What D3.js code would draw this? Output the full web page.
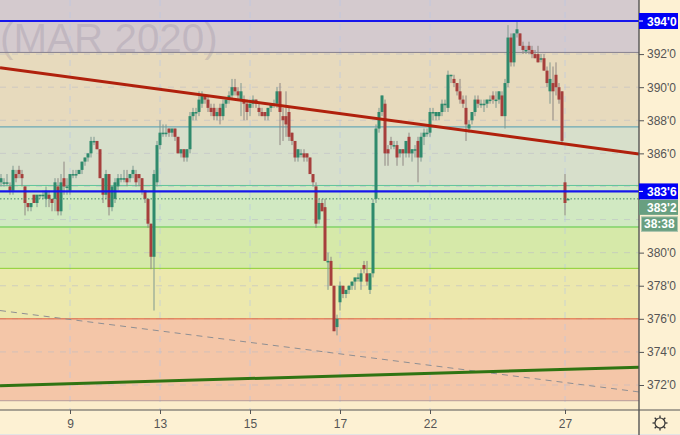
<!DOCTYPE html>
<html><head><meta charset="utf-8">
<script src="https://cdn.jsdelivr.net/npm/d3@7"></script>
<style>html,body{margin:0;padding:0;background:#fdf1d3;overflow:hidden}svg{display:block}text{font-family:"Liberation Sans",Arial,sans-serif}</style>
</head><body><div id="c"></div>
<script>
const opens=[384.25,384.25,384.25,384,383.75,384.75,385,384.75,384,383,
382.75,383.5,383,383.5,383.5,383.25,383.5,383.25,383.25,384,
382.5,384.5,384,383.75,384.75,384.75,384.75,385,385.5,385.75,
386,386.75,386.75,386.25,384.5,383.5,384.75,382.75,383.25,384,
384.5,384.5,384.5,384.5,384.75,384.75,384.75,384.5,383.75,383.25,
381.75,379.75,384.25,386.5,387.25,387.25,387.5,387.25,387.5,387,
386,386.25,385.75,386.25,388.25,388.5,388.5,389,389.5,389.25,
388.75,388.75,388.25,388.75,388.25,389,389.25,389.5,390,389.75,
389.25,389.25,389,388.75,389,389.25,388.75,388.5,388.5,388.25,
388.75,389,389,389.75,388.25,388.25,388.5,387.25,386.75,385.75,
386,386,386,385.75,384.75,384,382,383,382.75,379.5,
379.5,378,375.5,377,378,377.5,377.75,378,378.25,378.5,
378.25,379.25,378.75,377.75,378.75,383.25,387.5,388.5,389,386.25,
386.75,386.5,386.5,386,386.25,386,387,386,386.25,386.75,
385.75,387,387.25,387.25,388.5,388.25,388.25,388.5,389,388.75,
390.75,390.5,390.25,389.75,389.25,388.75,387.5,388,388.5,389.25,
389,389,389,389.25,389.5,389.25,389.25,389.5,388.25,390.25,
393,391.5,393.25,393.25,392.5,392.25,392.5,392.25,392,392,
391.75,391.75,391,389.75,390.25,390.75,390,389.75,384.25,383.25];
const highs=[384.75,384.5,384.75,384.25,385.25,385,385.25,385,384,383,
383,383.5,383.5,383.5,383.75,384,383.75,383.25,384.5,384.5,
384.75,385.5,384.5,384.75,385,385,385,385.5,385.75,386,
387,387,386.75,386.25,384.5,385,384.75,384,384.5,384.75,
384.75,385,385,384.75,385.25,385,384.75,384.5,383.75,383.25,
381.75,385,386.75,388,387.75,387.75,387.5,387.5,387.5,387,
386.25,386.25,386.25,388.5,388.75,388.75,389.75,389.75,389.5,389.5,
389,389,388.75,389,389.25,389.25,389.75,390.5,390.5,390,
390.25,389.5,389.25,389.25,389.5,389.25,389,388.75,388.5,388.75,
389,389.25,390,390.25,388.75,389.75,388.75,387.25,386.75,386.25,
386.25,386.25,386,385.75,384.75,384.25,383.25,383.25,383.25,380,
379.75,378,376.25,378.25,378,377.75,378,378.25,378.5,378.75,
379,379.5,379.5,378.75,383.25,387.75,388.75,389.5,389.25,386.5,
387,386.75,386.75,386.25,386.25,386.75,387.25,386.25,386.5,387,
387.25,387.5,387.5,388.75,388.75,388.5,388.5,389.25,389.25,391,
390.75,390.75,390.25,390.5,389.5,389.5,388,388.5,389.5,389.5,
389.25,389.25,389.25,389.5,389.75,389.75,389.75,389.75,390.5,393.75,
393.25,393.25,394,393.25,392.75,392.5,392.75,392.5,392.25,392.5,
392,392,391.25,391.5,391.25,391.5,390.25,389.75,384.75,383.25];
const lows=[384,384,384,383.5,383.5,384.25,384.5,384,382.25,382.5,
382.5,383,382.75,383.25,383.25,382.75,382.75,382.5,382.5,382.25,
382.25,383.5,383.5,383.5,384.5,384.5,384.75,384.75,385.25,385.5,
385.75,386.5,386.25,384.5,383,383.25,382.25,382.5,383,383.75,
384.25,384.25,384,384.25,384.5,384,384,383.5,383,381.5,
379,376.5,384,386.25,387,387,387,387,386.75,386,
385.75,385.5,385.5,386,388,388,388.25,388.75,389,388.5,
388.25,388,388,387.75,388,388.75,389,389.25,389.5,389.25,
388.25,388,388,388.25,388.75,388.75,388.25,388.25,388,388,
388.5,388.75,388.75,386.5,386.75,387,386.75,386.5,385.5,385.5,
385.75,385.5,385.5,384.75,384,381.5,381.75,382.5,379.5,377.75,
378,375.25,375,376.5,377.25,377.25,377.5,377.75,377.75,378.25,
377.75,378.75,378,377.5,378.5,383,387.25,388.25,385.25,385.25,
386.25,386.25,385.25,385.75,385.25,385.75,385.75,385.5,385.75,384.25,
385.5,386.5,387,387,388,388,388,388.25,388.5,388.5,
390.25,390,389.5,389,388.75,386.75,387.25,387.75,388.25,388.75,
388.75,388.5,388.75,389,389,388.75,389,388.25,387.5,390,
391.25,391.25,393,392.5,392,392,392,391.75,391.75,391.5,
391.5,391,390,389,388,389.5,389,386.5,382.25,383.25];
const closes=[384.5,384.25,384.25,383.75,385,384.5,384.75,384.5,383,382.75,
383,383,383.5,383.5,383.5,383.75,383.25,383,384.25,382.5,
384.25,384,384,384.75,384.75,384.75,385,385.5,385.75,386,
386.75,386.75,386.25,384.5,383.5,384.75,382.75,384,384.25,384.5,
384.5,384.5,384.25,384.75,385,384.25,384.5,383.75,383.25,381.75,
379.75,384.75,386.5,387.25,387.25,387.25,387.25,387.5,387,386,
386.25,385.75,386.25,388.25,388.5,388.5,389.25,389.5,389.25,388.75,
388.5,388.25,388.5,388.25,389,389.25,389.5,390,389.75,389.5,
389.75,389,388.5,389,389.25,389,388.5,388.25,388.25,388.75,
389,389,389.75,388.5,388,387.75,387,386.75,385.75,386.25,
386,385.75,385.75,384.75,384.25,381.75,383,382.5,379.5,379.5,
378,375.25,376,378,377.5,377.75,378,378.25,378.5,378.5,
378.75,379,378.25,378.75,383,387.5,388.5,389.5,386,386,
386.5,386.5,385.75,386.25,386,386.75,386,386.25,386.25,385.75,
387,387.25,387.25,388.5,388.5,388.5,388.5,389,389,390.75,
390.75,390.25,389.75,389.25,389,387.75,387.75,388.5,389.25,389,
389,389,389.25,389.25,389.25,389.25,389.75,388.25,390.25,393,
391.5,393.25,393.5,392.5,392.25,392.25,392.25,392,391.75,391.5,
391.75,391,390.25,390.5,389.75,390,389.25,386.75,383,383.25];

const dayTicks=[23,53,83,113,143,188];
const dayLabels=["9","13","15","17","22","27"];
const priceTicks=[392,390,388,386,380,378,376,374,372];
const gridPrices=[394,392,390,388,386,384,382,380,378,376,374,372];

const bandEdges=[392.1,387.6,384.06,381.55,379.05,376,371.05];
const bandColors=["#d4cace","#e7dabd","#d7dfcb","#d1e9c2","#d6e9a9","#ece8ad","#f4c6a8","#fbecca"];
const edgeColors=["#85808f","#4e9bb0","#5fc49a","#58c840","#8ad030","#e0603c","#b59a98"];

const keyLevels=[394,383.7];
const currentPrice=383.25;
const countdown="38:38";
const resistanceLine=[391.18,385.96];
const supportLine=[371.95,373.08];
const dashedLine=[376.5,371.58];
const lineIndexes=[-0.33,212.67];

const W=680,H=435,axisX=639,axisY=410;
const svg=d3.select("#c").append("svg").attr("width",W).attr("height",H);
const x=d3.scaleLinear().domain([0,213]).range([1,640]);
const y=d3.scaleLinear().domain([394,372]).range([21,385]);
svg.append("rect").attr("width",W).attr("height",H).attr("fill","#fdf1d3");
svg.append("rect").attr("y",434).attr("width",W).attr("height",1).attr("fill","#e4e4e4");
svg.append("defs").append("clipPath").attr("id","p").append("rect").attr("width",axisX).attr("height",axisY);
const plot=svg.append("g").attr("clip-path","url(#p)");

// bands
const tops=[0].concat(bandEdges.map(y));
const bots=bandEdges.map(y).concat([axisY]);
plot.selectAll("rect.band").data(bandColors).join("rect").attr("class","band")
 .attr("x",0).attr("width",axisX).attr("y",(d,i)=>tops[i]).attr("height",(d,i)=>bots[i]-tops[i]).attr("fill",d=>d);

// watermark
plot.append("text").attr("x",0).attr("y",52).attr("font-size",40.4).attr("fill","#8a8098").attr("fill-opacity",.25).text("(MAR 2020)");

// grid
plot.selectAll("line.gh").data(gridPrices).join("line").attr("class","gh").attr("x1",0).attr("x2",axisX).attr("y1",y).attr("y2",y)
 .attr("stroke","#b9bcc6").attr("stroke-opacity",.55).attr("stroke-dasharray","6 6");
plot.selectAll("line.gv").data(dayTicks).join("line").attr("class","gv").attr("x1",x).attr("x2",x).attr("y1",0).attr("y2",axisY)
 .attr("stroke","#b4c4e8").attr("stroke-opacity",.6).attr("stroke-dasharray","6 6");

// levels
plot.selectAll("line.lv").data(bandEdges).join("line").attr("class","lv").attr("x1",0).attr("x2",axisX).attr("y1",y).attr("y2",y)
 .attr("stroke",(d,i)=>edgeColors[i]).attr("stroke-width",1);

// dashed trend
plot.append("line").attr("x1",x(lineIndexes[0])).attr("x2",x(lineIndexes[1])).attr("y1",y(dashedLine[0])).attr("y2",y(dashedLine[1]))
 .attr("stroke","#8f8f93").attr("stroke-width",1).attr("stroke-dasharray","6 5");

// candles
const idx=d3.range(opens.length);
const up=i=>closes[i]>=opens[i];
plot.selectAll("line.w").data(idx).join("line").attr("class","w").attr("x1",x).attr("x2",x).attr("y1",i=>y(highs[i])).attr("y2",i=>y(lows[i]))
 .attr("stroke",i=>up(i)?"#7f9890":"#8f8682").attr("stroke-width",1);
plot.selectAll("rect.b").data(idx).join("rect").attr("class","b")
 .attr("x",i=>x(i)-1.5).attr("width",3)
 .attr("y",i=>y(Math.max(opens[i],closes[i])))
 .attr("height",i=>Math.max(1.5,Math.abs(y(opens[i])-y(closes[i]))))
 .attr("fill",i=>up(i)?"#2f8a6c":"#a63f3c");

// key lines
plot.selectAll("line.k").data(keyLevels).join("line").attr("class","k").attr("x1",0).attr("x2",axisX).attr("y1",y).attr("y2",y)
 .attr("stroke","#1616ec").attr("stroke-width",2.2);
plot.append("line").attr("x1",0).attr("x2",axisX).attr("y1",y(currentPrice)).attr("y2",y(currentPrice))
 .attr("stroke","#3f8a64").attr("stroke-dasharray","1.5 2");
plot.append("line").attr("x1",x(lineIndexes[0])).attr("x2",x(lineIndexes[1])).attr("y1",y(resistanceLine[0])).attr("y2",y(resistanceLine[1]))
 .attr("stroke","#b0200c").attr("stroke-width",3);
plot.append("line").attr("x1",x(lineIndexes[0])).attr("x2",x(lineIndexes[1])).attr("y1",y(supportLine[0])).attr("y2",y(supportLine[1]))
 .attr("stroke","#2f7412").attr("stroke-width",3);

// axes
const fmt=p=>{const w=Math.floor(p);return w+"'"+Math.round((p-w)*8)};
const ya=d3.axisRight(y).tickValues(priceTicks).tickFormat(fmt).tickSize(5).tickPadding(3);
const yg=svg.append("g").attr("transform",`translate(${axisX},0)`).call(ya);
yg.select(".domain").remove();
yg.selectAll("text").attr("font-size",12).attr("fill","#555").attr("font-family",'"Liberation Sans",Arial,sans-serif');
yg.selectAll("line").attr("stroke","#555");
const xa=d3.axisBottom(x).tickValues(dayTicks).tickFormat((d,i)=>dayLabels[i]).tickSize(4).tickPadding(5);
const xg=svg.append("g").attr("transform",`translate(0,${axisY})`).call(xa);
xg.select(".domain").remove();
xg.selectAll("text").attr("font-size",12).attr("fill","#555").attr("font-family",'"Liberation Sans",Arial,sans-serif');
xg.selectAll("line").attr("stroke","#555");
svg.append("line").attr("x1",0).attr("x2",W).attr("y1",axisY).attr("y2",axisY).attr("stroke","#555").attr("stroke-width",1);
svg.append("line").attr("x1",axisX).attr("x2",axisX).attr("y1",0).attr("y2",H).attr("stroke","#555").attr("stroke-width",1.4);

// price tags
function tag(p,fill,label){
 const cy=y(p);
 svg.append("rect").attr("x",axisX).attr("y",cy-8).attr("width",39).attr("height",16).attr("fill",fill);
 svg.append("line").attr("x1",axisX).attr("x2",axisX+4).attr("y1",cy).attr("y2",cy).attr("stroke","#fff");
 svg.append("text").attr("x",axisX+8).attr("y",cy+4.5).attr("font-size",12).attr("font-weight","bold").attr("fill","#fff").text(label);
}
keyLevels.forEach(p=>tag(p,"#0000f5",fmt(p)));
const cur=y(currentPrice);
svg.append("rect").attr("x",axisX).attr("y",cur+1).attr("width",39).attr("height",15).attr("fill","#689f80");
svg.append("text").attr("x",axisX+8).attr("y",cur+13).attr("font-size",12).attr("font-weight","bold").attr("fill","#fff").text(fmt(currentPrice));
svg.append("rect").attr("x",axisX+2.5).attr("y",cur+18).attr("width",36).attr("height",14.5).attr("fill","#689f80").attr("stroke","#a9c4ad");
svg.append("text").attr("x",axisX+5).attr("y",cur+29.5).attr("font-size",12).attr("font-weight","bold").attr("fill","#fff").text(countdown);

// gear
const gear=svg.append("g").attr("transform","translate(660,423)").attr("stroke","#333").attr("fill","none");
gear.append("circle").attr("r",5).attr("stroke-width",1.2);
gear.selectAll("line").data(d3.range(8)).join("line").attr("y1",-5).attr("y2",-7.5).attr("stroke-width",1.3)
 .attr("transform",d=>`rotate(${d*45})`);
</script></body></html>
